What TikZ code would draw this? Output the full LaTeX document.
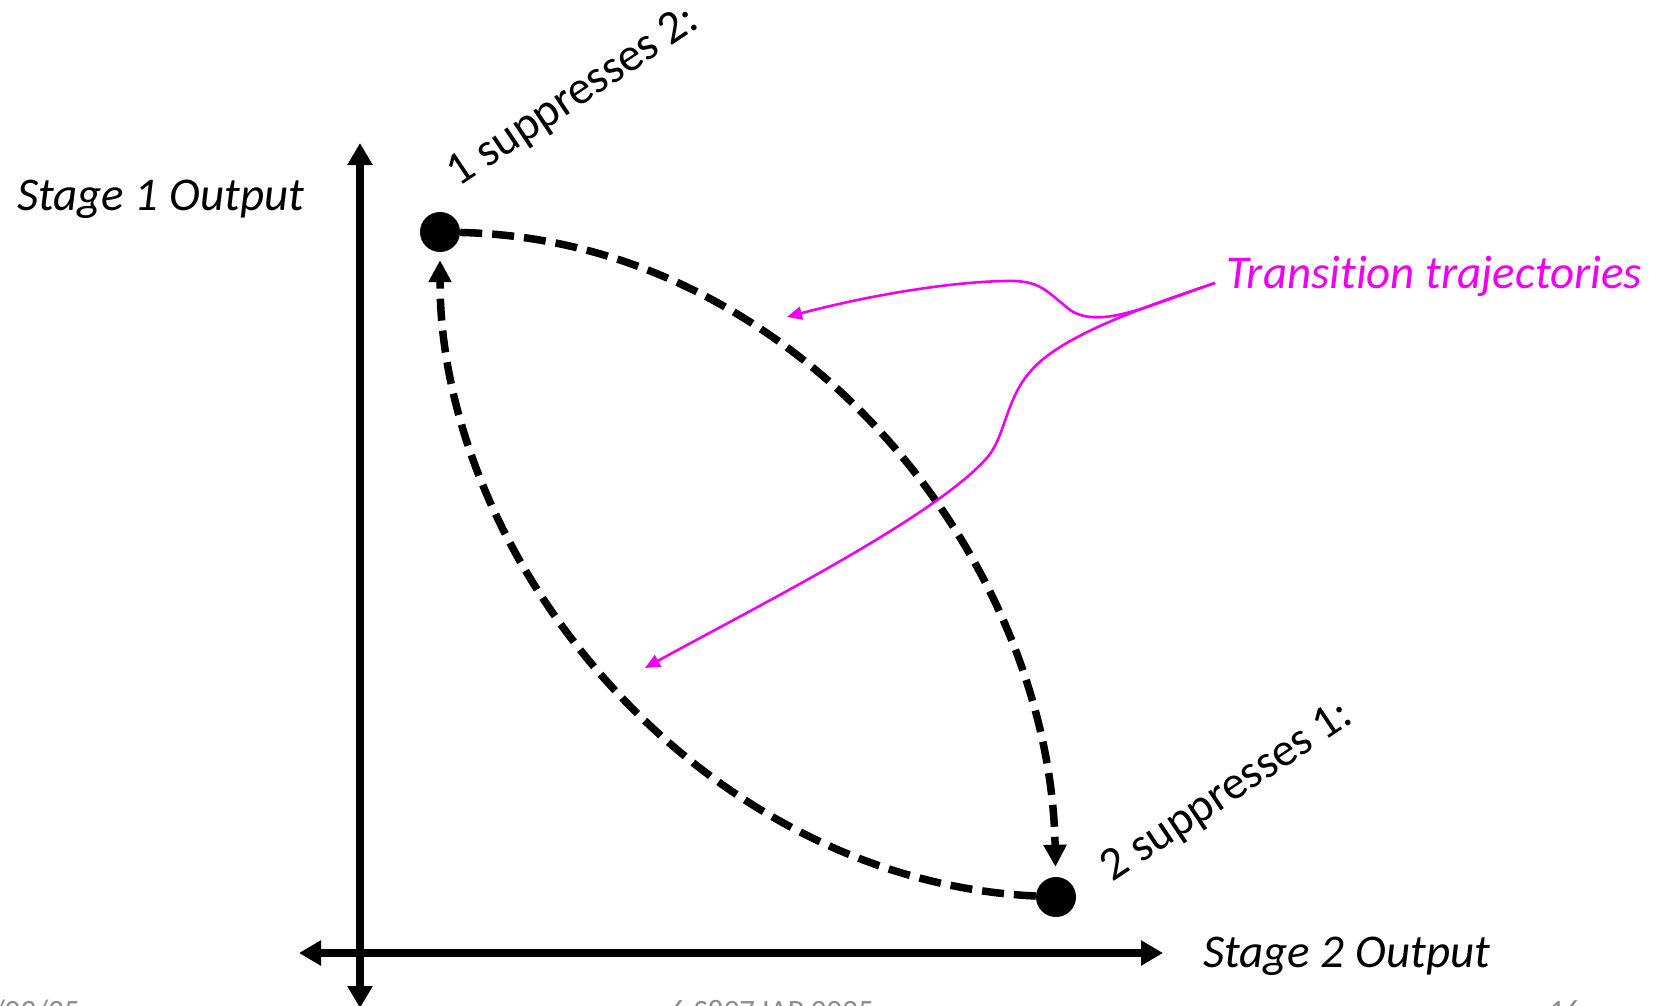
\documentclass[tikz,border=0pt]{standalone}
\usepackage{fontspec}
\setmainfont{Carlito}[Ligatures=NoCommon]
\usetikzlibrary{arrows.meta}
\definecolor{mag}{RGB}{240,0,240}
\definecolor{foot}{RGB}{140,140,140}
\tikzset{
  axis/.style={line width=8.5pt, {Triangle[length=22pt,width=24pt]}-{Triangle[length=22pt,width=24pt]}},
  traj/.style={line width=7.5pt, dash pattern=on 22pt off 10pt, -{Triangle[length=22pt,width=22pt]}},
  dot/.style={circle, fill=black, inner sep=0pt, minimum size=40pt},
  lbl/.style={font=\fontsize{47}{56}\selectfont\itshape, inner sep=0pt},
  sup/.style={font=\fontsize{47}{56}\selectfont, inner sep=0pt, anchor=base, rotate=33.7},
  pointer/.style={draw=mag, line width=2.6pt, -{Triangle[length=15pt,width=13pt]}},
  footer/.style={font=\fontsize{31}{36}\selectfont, text=foot, inner sep=0pt, anchor=base}
}
\begin{document}
\begin{tikzpicture}[x=1pt,y=-1pt]
\useasboundingbox (0,0) rectangle (1662,1006);
% axes
\coordinate (ytop) at (360,143);
\coordinate (ybot) at (360,1008);
\coordinate (xleft) at (299,953);
\coordinate (xright) at (1163,953);
\draw[axis] (ybot) -- (ytop);
\draw[axis] (xleft) -- (xright);
% axis labels
\node[lbl, anchor=base west] (ylab) at (17,210) {Stage 1 Output};
\node[lbl, anchor=base west] (xlab) at (1203,967) {Stage 2 Output};
% steady states
\node[dot] (p1) at (440,232) {};
\node[dot] (p2) at (1056,897) {};
\node[sup] (s1) at (580,107) {1 suppresses 2:};
\node[sup] (s2) at (1234,802) {2 suppresses 1:};
% trajectories
\draw[traj, shorten >=10pt] (p1) .. controls (800,240) and (1050,560) .. (p2);
\draw[traj, shorten >=8pt] (p2) .. controls (700,880) and (440,560) .. (p1);
% annotation
\node[lbl, text=mag, anchor=base west] (tt) at (1226,288) {Transition trajectories};
\coordinate (tstart) at (1215,283);
\coordinate (tip1) at (787,317);
\coordinate (tip2) at (645,668);
\draw[pointer] (tstart) .. controls (1150,305) and (1100,330) .. (1070,310)
  .. controls (1045,290) and (1040,280) .. (1005,281)
  .. controls (950,282) and (870,295) .. (tip1);
\draw[pointer] (tstart) .. controls (1150,305) and (1060,335) .. (1030,372)
  .. controls (1005,400) and (1005,440) .. (985,460)
  .. controls (930,520) and (750,610) .. (tip2);
% footer (cut off by page edge)
\node[footer, anchor=base east] (f1) at (80,1021) {03/03/25};
\node[footer] (f2) at (772,1021) {6.S897 IAP 2025};
\node[footer] (f3) at (1565,1021) {16};
\end{tikzpicture}
\end{document}
